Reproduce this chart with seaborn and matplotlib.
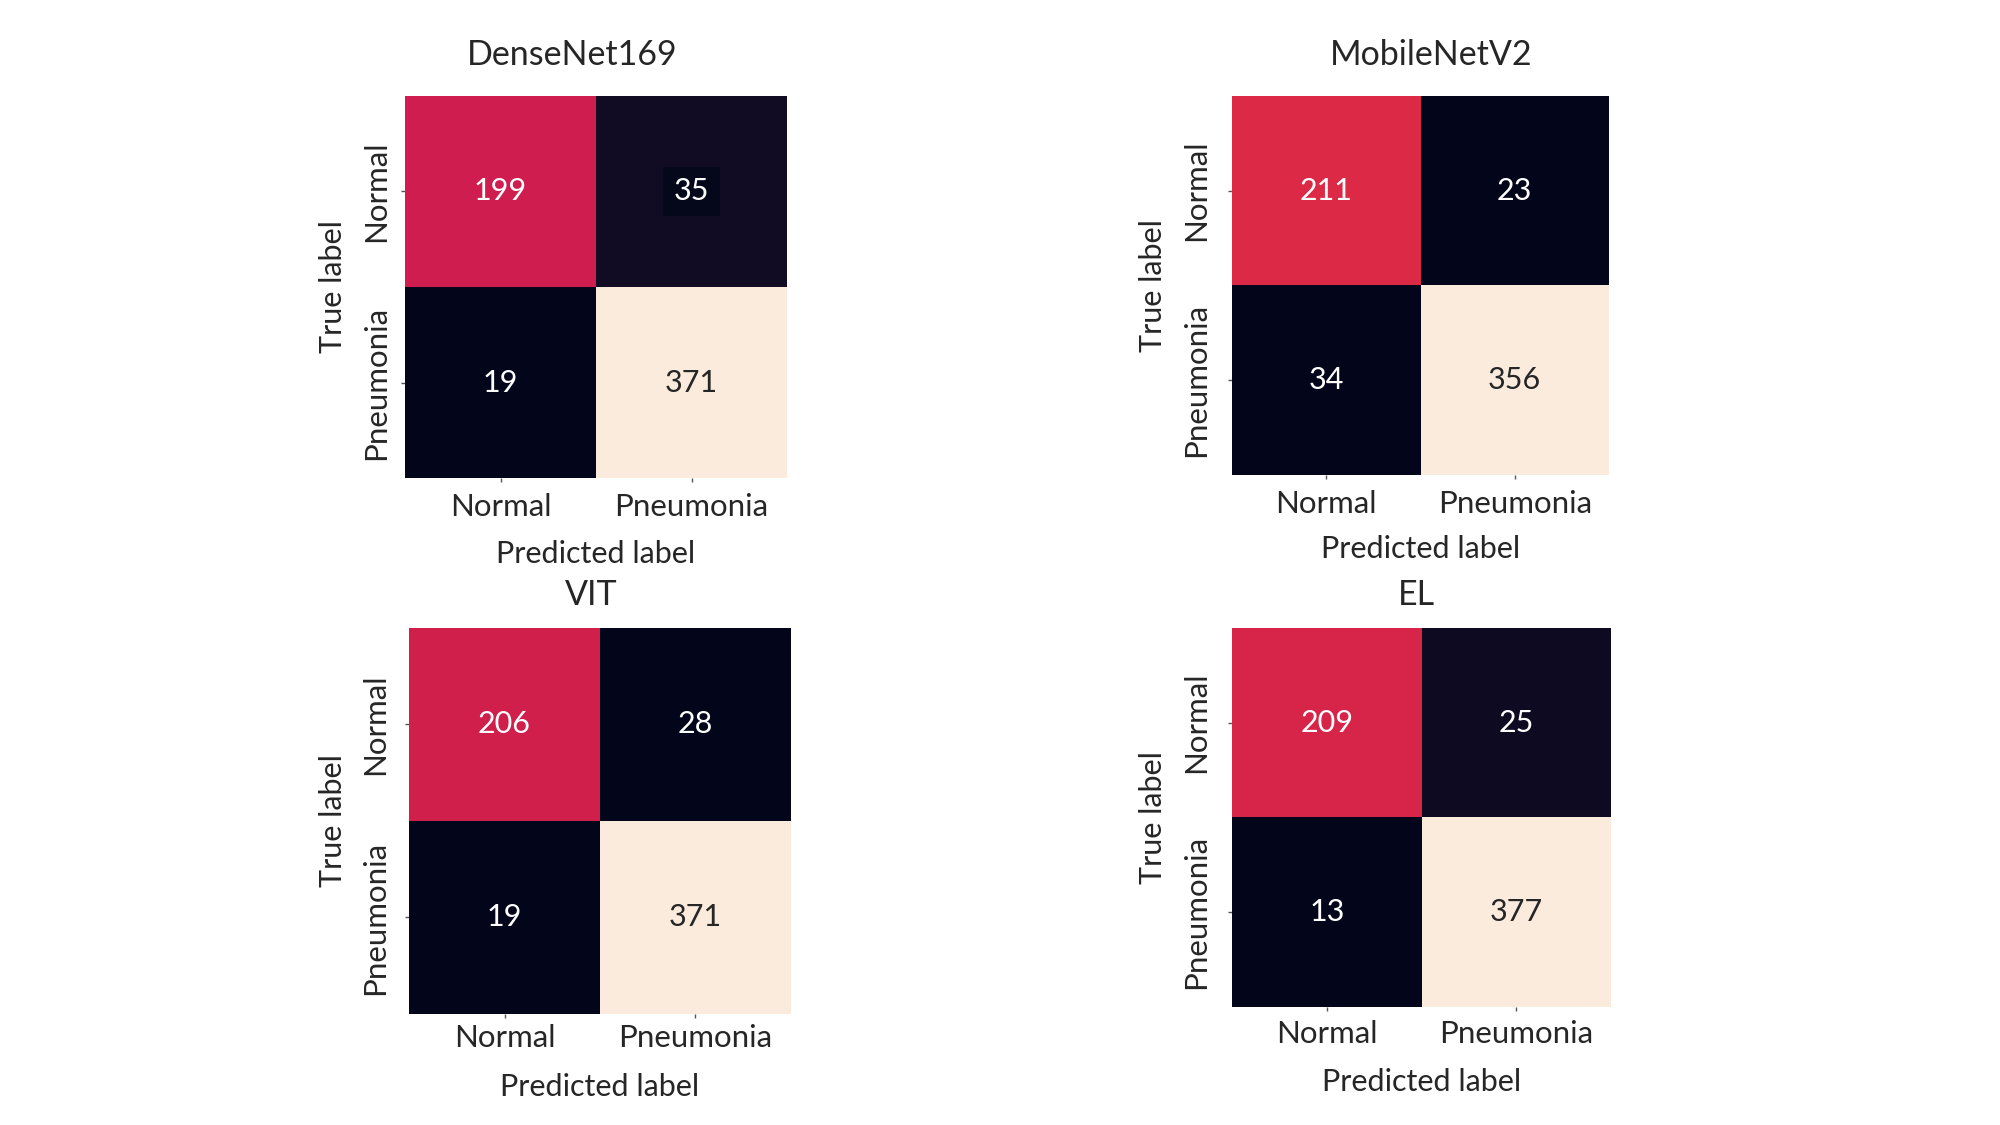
import matplotlib
matplotlib.use("Agg")
import matplotlib.pyplot as plt
import seaborn as sns
import numpy as np

sns.set_theme(style="white")
plt.rcParams['font.family'] = ['Lato', 'DejaVu Sans']

classes = ["Normal", "Pneumonia"]
titles = ["DenseNet169", "MobileNetV2", "VIT", "EL"]
densenet = [[199, 35], [19, 371]]
mobilenet = [[211, 23], [34, 356]]
vit = [[206, 28], [19, 371]]
el = [[209, 25], [13, 377]]
matrices = [densenet, mobilenet, vit, el]

# colour-scale lower bounds per panel (both off-diagonal cells appear equally dark in some panels)
color_vmin = [19, 34, 28, 13]

positions = [
    [0.2025, 0.5751, 0.1910, 0.3396],
    [0.6160, 0.5778, 0.1885, 0.3369],
    [0.2045, 0.0987, 0.1910, 0.3431],
    [0.6160, 0.1049, 0.1895, 0.3369],
]
title_pads = [22, 22, 16.8, 16.8]
title_x = [0.437, 0.529, 0.477, 0.487]
ytick_pads = [8, 13, 11, 13]
xtick_pads = [8, 8, 4, 6.7]
xlabel_pads = [13.5, 12.2, 15, 14]

fig = plt.figure(figsize=(20, 11.25), dpi=100)
fs_tick = 22.5
fs_lab = 22
fs_title = 24.5
fs_ann = 22
for i, (mat, title, pos) in enumerate(zip(matrices, titles, positions)):
    ax = fig.add_axes(pos)
    arr = np.array(mat)
    sns.heatmap(arr, annot=True, fmt="d", cmap="rocket", cbar=False,
                vmin=color_vmin[i], vmax=arr.max(),
                square=False, xticklabels=classes, yticklabels=classes,
                annot_kws={"fontsize": fs_ann}, ax=ax)
    ax.set_title(title, fontsize=fs_title, pad=title_pads[i], x=title_x[i])
    ax.set_xlabel("Predicted label", fontsize=fs_lab, labelpad=xlabel_pads[i])
    ax.set_ylabel("True label", fontsize=fs_lab, labelpad=10.5)
    ax.tick_params(axis="both", which="both", length=3, width=1, color="#555555",
                   left=True, bottom=True, labelsize=fs_tick)
    ax.tick_params(axis="y", pad=ytick_pads[i])
    ax.tick_params(axis="x", pad=xtick_pads[i])
    plt.setp(ax.get_yticklabels(), rotation=90, va="center")
    plt.setp(ax.get_xticklabels(), rotation=0)
    if title == "DenseNet169":
        for t in ax.texts:
            if t.get_text() == "35":
                t.set_bbox(dict(facecolor="#05081a", edgecolor="none",
                                boxstyle="square,pad=0.35"))

fig.savefig("out.png", dpi=100)
